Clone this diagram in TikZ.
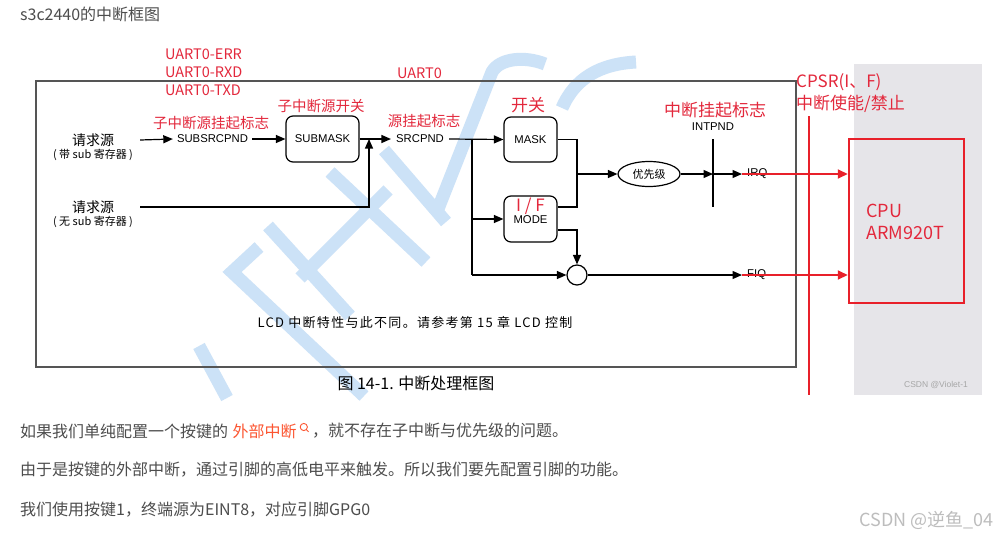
\documentclass[tikz,border=0pt]{standalone}
\usepackage{fontspec}
\setmainfont{Liberation Sans}
\newfontfamily\cjk{Noto Sans CJK SC}
\newfontfamily\cjkwide[LetterSpace=10]{Noto Sans CJK SC}
\usetikzlibrary{arrows.meta,shapes.geometric}
\definecolor{labred}{HTML}{E3283C}
\definecolor{linered}{HTML}{E8202A}
\definecolor{txtgray}{HTML}{4D4D4D}
\definecolor{linkred}{HTML}{FC5531}
\definecolor{wmblue}{HTML}{CCE2F7}
\definecolor{panelgray}{HTML}{E6E5E9}
\definecolor{framegray}{HTML}{555555}
\definecolor{markgray}{HTML}{BDBDBD}
\tikzset{
  lab/.style={font=\fontsize{11.3}{13}\selectfont, inner sep=0pt},
  cjklab/.style={font=\cjk\fontsize{14}{16}\selectfont, inner sep=0pt},
  cjksmall/.style={font=\cjk\fontsize{11}{13}\selectfont, inner sep=0pt},
  redlab/.style={font=\cjk\fontsize{14.5}{16}\selectfont, text=labred, inner sep=0pt},
  redbig/.style={font=\cjk\fontsize{17}{19}\selectfont, text=labred, inner sep=0pt},
  rbox/.style={draw, rounded corners=7pt, line width=1.2pt, minimum width=53pt, minimum height=45pt, inner sep=0pt},
  wire/.style={line width=1.2pt},
  conn/.style={line width=1.2pt, -{Triangle[length=9.5pt,width=8pt]}},
  redconn/.style={draw=linered, line width=2pt, -{Triangle[length=10pt,width=9pt]}, linered},
  wm/.style={draw=wmblue, line width=13pt},
  body/.style={font=\cjk\fontsize{16}{18}\selectfont, text=txtgray, inner sep=0pt, anchor=west}
}
\begin{document}
\begin{tikzpicture}[x=1pt,y=-1pt]
\useasboundingbox (0,0) rectangle (998,538);
\fill[white] (0,0) rectangle (998,538);
% right panel
\fill[panelgray] (854,64) rectangle (982,395);
% watermark strokes
\draw[wm] (199,346) -- (227,398);
\draw[wm] (259,247) -- (232,272) -- (364,396);
\draw[wm] (268,226) -- (350,316);
\draw[wm] (300,278) -- (388,190);
\draw[wm] (330,172) -- (426,262);
\draw[wm] (384,150) -- (446,222);
\draw[wm] (436,214) -- (492,72) .. controls (500,58) and (525,56) .. (545,64);
\draw[wm] (562,108) .. controls (575,78) and (600,64) .. (636,62);
% frame
\draw[framegray, line width=1.3pt] (36,81) rectangle (796,367);
% title
\node[body] (title) at (20,14) {s3c2440的中断框图};
% red top labels
\node[redlab, anchor=west] (uerr) at (165,54) {UART0-ERR};
\node[redlab, anchor=west] (urxd) at (165,72) {UART0-RXD};
\node[redlab, anchor=west] (utxd) at (165,90) {UART0-TXD};
\node[redlab, anchor=west] (uart0) at (397,73) {UART0};
% sources
\node[cjklab, minimum width=94pt] (src1) at (93,140) {请求源};
\node[cjksmall] (src1b) at (93,155) {( 带 sub 寄存器 )};
\node[cjklab, minimum width=94pt] (src2) at (93,207) {请求源};
\node[cjksmall] (src2b) at (93,222) {( 无 sub 寄存器 )};
% chain
\node[lab, inner xsep=4pt] (subsrc) at (212.5,139) {SUBSRCPND};
\node[rbox, minimum width=73pt, minimum height=46pt, font=\fontsize{11.3}{13}\selectfont] (submask) at (322.5,139) {SUBMASK};
\coordinate (j1) at (369,139);
\node[lab, inner xsep=5pt] (srcpnd) at (420,139) {SRCPND};
\coordinate (b1) at (472,139);
\node[rbox, font=\fontsize{11.3}{13}\selectfont] (mask) at (530.5,139.5) {MASK};
\node[rbox, minimum height=46pt] (mode) at (530.5,219) {};
\node[lab] (modetxt) at (530.5,220) {MODE};
\node[redbig] (iftxt) at (530.5,206) {I / F};
\node[draw, ellipse, minimum width=62pt, minimum height=25pt, line width=1.2pt, inner sep=0pt, font=\cjk\fontsize{11}{13}\selectfont] (prio) at (649,174) {优先级};
\node[draw, circle, minimum size=20pt, inner sep=0pt, line width=1.2pt] (orc) at (577,275) {};
\coordinate (ip1) at (713,139);
\coordinate (ip2) at (713,207);
\coordinate (k1) at (577,207);
\coordinate (k2) at (577,174);
\coordinate (k3) at (557.5,230);
\node[lab] (intpnd) at (713,127) {INTPND};
\node[lab, anchor=west, inner xsep=5pt] (irq) at (742,174) {IRQ};
\node[lab, anchor=west, inner xsep=5pt] (fiq) at (742,275) {FIQ};
% red labels
\node[redlab] (l1) at (211,123) {子中断源挂起标志};
\node[redlab] (l2) at (321,106) {子中断源开关};
\node[redlab] (l3) at (424,121) {源挂起标志};
\node[redbig] (l4) at (528,105) {开关};
\node[redbig] (l5) at (715,110) {中断挂起标志};
% connectors
\draw[conn] (src1.east) -- (subsrc.west);
\draw[conn] (subsrc.east) -- (submask.west);
\draw[conn] (submask.east) -- (srcpnd.west);
\draw[conn] (src2.east) -| (j1);
\draw[conn] (srcpnd.east) -- (mask.west);
\draw[wire] (b1) -- (b1 |- orc);
\draw[conn] (b1 |- mode.west) -- (mode.west);
\draw[conn] (b1 |- orc.west) -- (orc.west);
\draw[wire] (mask.east) -| (k1) -- (k1 -| mode.east);
\draw[conn] (k2) -- (prio.west);
\draw[conn] (prio.east) -- (prio.east -| ip1);
\draw[wire] (ip1) -- (ip2);
\draw[conn] (prio.east -| ip1) -- (irq.west);
\draw[conn] (k3) -| (orc.north);
\draw[conn] (orc.east) -- (fiq.west);
% CPU
\node[draw=linered, line width=2.5pt, minimum width=115pt, minimum height=164pt, inner sep=0pt] (cpu) at (906.5,221) {};
\node[anchor=west, align=left, font=\cjk\fontsize{18}{22}\selectfont, text=labred, inner sep=0pt] (cputxt) at (866,222) {CPU\\ARM920T};
\draw[redconn] (irq.west) -- (irq.west -| cpu.west);
\draw[redconn] (fiq.west) -- (fiq.west -| cpu.west);
\coordinate (cp1) at (808.5,116);
\coordinate (cp2) at (808.5,395);
\draw[linered, line width=2pt] (cp1) -- (cp2);
\node[redbig, anchor=west] (cpsr) at (796,82) {CPSR(I、F)};
\node[redbig, anchor=west] (cpsr2) at (796,104) {中断使能/禁止};
\node[font=\fontsize{8.5}{10}\selectfont, text=gray!70, inner sep=0pt] (violet) at (936,385) {CSDN @Violet-1};
% texts inside figure
\node[font=\cjkwide\fontsize{13}{15}\selectfont, inner sep=0pt] (lcd) at (415,322) {LCD 中断特性与此不同。请参考第 15 章 LCD 控制};
\node[font=\cjk\fontsize{16}{18}\selectfont, inner sep=0pt] (cap) at (416,383) {图 14-1. 中断处理框图};
% body text
\node[body] (t1a) at (20,431) {如果我们单纯配置一个按键的};
\node[body, text=linkred, anchor=west] (t1b) at ([xshift=4pt]t1a.east) {外部中断};
\coordinate (mg) at ([xshift=7pt,yshift=4pt]t1b.east);
\draw[linkred, line width=0.9pt] (mg) circle (3.6pt);
\draw[linkred, line width=0.9pt] ([xshift=2.6pt,yshift=-2.6pt]mg) -- ([xshift=4.8pt,yshift=-4.8pt]mg);
\node[body, anchor=west] (t1c) at ([xshift=15pt]t1b.east) {，就不存在子中断与优先级的问题。};
\node[body] (t2) at (20,470) {由于是按键的外部中断，通过引脚的高低电平来触发。所以我们要先配置引脚的功能。};
\node[body] (t3) at (20,510) {我们使用按键1，终端源为EINT8，对应引脚GPG0};
\node[font=\cjk\fontsize{18}{20}\selectfont, text=markgray, inner sep=0pt, anchor=east] (mark) at (994,520) {CSDN @逆鱼\_04};
\end{tikzpicture}
\end{document}
